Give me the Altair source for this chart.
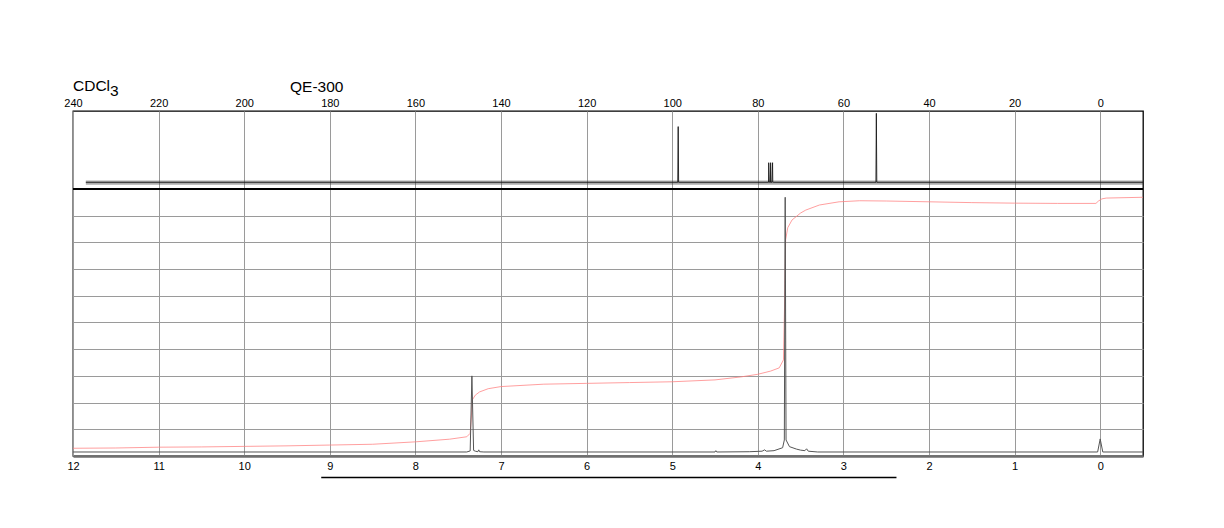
import altair as alt
import pandas as pd

# ---- 1H spectrum (ppm, relative intensity) ----
h_ppm = [12.0, 7.40, 7.36, 7.34, 7.32, 7.30, 7.27, 7.26, 7.25, 7.20, 4.50, 4.49, 4.48,
         4.10, 3.95, 3.92, 3.90, 3.81, 3.71, 3.69, 3.68, 3.67, 3.63, 3.55, 3.50, 3.45,
         3.43, 3.41, 3.30, 0.03, 0.0, -0.03, -0.5]
h_int = [1.5, 1.5, 1.9, 30.0, 2.1, 1.8, 1.6, 2.3, 1.6, 1.5, 1.5, 2.0, 1.5,
         1.6, 1.8, 2.3, 1.8, 2.0, 3.1, 6.0, 96.9, 6.0, 3.5, 2.6, 2.2, 2.0,
         2.7, 1.8, 1.5, 1.5, 6.4, 1.5, 1.5]

# ---- integration curve ----
integ_ppm = [12.0, 11.5, 11.0, 10.5, 10.0, 9.5, 9.0, 8.5, 8.0, 7.6, 7.4, 7.36, 7.345,
             7.335, 7.30, 7.25, 7.15, 7.0, 6.5, 6.0, 5.5, 5.0, 4.5, 4.2, 4.0, 3.85,
             3.75, 3.70, 3.685, 3.675, 3.65, 3.60, 3.50, 3.44, 3.28, 3.05, 2.81, 2.5,
             2.0, 1.5, 1.0, 0.5, 0.05, 0.02, -0.02, -0.07, -0.5]
integ_val = [2.9, 3.0, 3.3, 3.4, 3.6, 3.8, 4.1, 4.4, 5.3, 6.3, 7.2, 8.5, 15.0,
             21.0, 22.8, 24.0, 25.2, 26.0, 26.9, 27.2, 27.5, 27.8, 28.5, 29.6, 30.6, 31.8,
             33.0, 36.0, 60.0, 81.0, 85.5, 88.4, 91.0, 92.1, 94.0, 95.2, 95.6, 95.5,
             95.2, 94.9, 94.7, 94.6, 94.6, 95.5, 96.3, 96.6, 96.9]

# ---- 13C spectrum (ppm, relative intensity) ----
c_ppm = [237.0, 98.7, 98.6, 98.5, 77.6, 77.5, 77.45, 77.3, 77.05, 77.0, 76.95,
         76.7, 76.55, 76.5, 76.4, 52.4, 52.3, 52.2, -10.0]
c_int = [8.6, 8.6, 80.0, 8.6, 8.6, 8.6, 33.7, 8.6, 8.6, 33.7, 8.6,
         8.6, 33.7, 8.6, 8.6, 8.6, 97.0, 8.6, 8.6]
c_noise_start, c_noise_end = 237.0, -10.0
c_noise_lo, c_noise_hi = 5.5, 11.0

# ---- axes / ticks ----
h_ticks = list(range(0, 13))
c_ticks = list(range(0, 241, 20))
grid_y = [10, 20, 30, 40, 50, 60, 70, 80, 90]
bar_from, bar_to = 9.1, 2.38

W, H = 1070, 345
FONT = "Liberation Sans"

h_df = pd.DataFrame({"ppm": h_ppm, "val": h_int})
i_df = pd.DataFrame({"ppm": integ_ppm, "val": integ_val})
c_df = pd.DataFrame({"ppm": c_ppm, "val": c_int})
n_df = pd.DataFrame({"a": [c_noise_start], "b": [c_noise_end], "lo": [c_noise_lo], "hi": [c_noise_hi]})
bar_df = pd.DataFrame({"a": [bar_from], "b": [bar_to]})

hscale = alt.Scale(domain=[-0.5, 12], reverse=True, nice=False, zero=False)
cscale = alt.Scale(domain=[-10, 240], reverse=True, nice=False, zero=False)
hyscale = alt.Scale(domain=[0, 129.21], nice=False, zero=False)
cyscale = alt.Scale(domain=[-342.3, 100], nice=False, zero=False)


def hx(field="ppm"):
    return alt.X(field, type="quantitative", scale=hscale,
                 axis=alt.Axis(values=h_ticks, format="d", grid=True, gridColor="#9a9a9a",
                               gridWidth=1, ticks=False, domain=True, domainColor="#6e6e6e",
                               domainWidth=2.5, labelFont=FONT, labelFontSize=11,
                               labelColor="black", labelPadding=4, labelFlush=False,
                               labelOverlap=False, title=None, orient="bottom"))


def hy(field="val"):
    return alt.Y(field, type="quantitative", scale=hyscale,
                 axis=alt.Axis(values=grid_y, grid=True, gridColor="#9a9a9a", labels=False,
                               ticks=False, domain=False, title=None))


def cx(field="ppm"):
    return alt.X(field, type="quantitative", scale=cscale,
                 axis=alt.Axis(values=c_ticks, format="d", grid=False, ticks=False,
                               domain=False, labelFont=FONT, labelFontSize=11,
                               labelColor="black", labelPadding=3, labelFlush=False,
                               labelOverlap=False, title=None, orient="top"))


def cy(field="val"):
    return alt.Y(field, type="quantitative", scale=cyscale, axis=None)


h_line = alt.Chart(h_df).mark_line(color="#555555", strokeWidth=1).encode(x=hx(), y=hy())
i_line = alt.Chart(i_df).mark_line(color="#ff7f7f", strokeWidth=1, opacity=0.75).encode(x=hx(), y=hy())
bar = alt.Chart(bar_df).mark_rule(color="black", strokeWidth=1.3).encode(
    x=hx("a"), x2="b", y=alt.value(H + 21.5))

bottom = alt.layer(i_line, h_line, bar)

noise = alt.Chart(n_df).mark_rect(color="#333333", opacity=0.4).encode(
    x=cx("a"), x2="b", y=cy("lo"), y2="hi")
c_line = alt.Chart(c_df).mark_line(color="#1a1a1a", strokeWidth=0.9).encode(x=cx(), y=cy())
top = alt.layer(noise, c_line)

sep = alt.Chart(pd.DataFrame({"k": [0]})).mark_rule(color="black", strokeWidth=2).encode(
    x=alt.value(0), x2=alt.value(W), y=alt.value(78))

t1 = alt.Chart(pd.DataFrame({"t": ["CDCl"]})).mark_text(
    align="left", baseline="alphabetic", font=FONT, fontSize=15.5, color="black").encode(
    text="t:N", x=alt.value(0), y=alt.value(-20))
t2 = alt.Chart(pd.DataFrame({"t": ["3"]})).mark_text(
    align="left", baseline="alphabetic", font=FONT, fontSize=15.5, color="black").encode(
    text="t:N", x=alt.value(37), y=alt.value(-15))
t3 = alt.Chart(pd.DataFrame({"t": ["QE-300"]})).mark_text(
    align="left", baseline="alphabetic", font=FONT, fontSize=15.5, color="black").encode(
    text="t:N", x=alt.value(217), y=alt.value(-19))

chart = alt.layer(bottom, top, sep, t1, t2, t3).resolve_scale(
    x="independent", y="independent").properties(
    width=W, height=H,
    autosize=alt.AutoSizeParams(type="none"),
    padding={"left": 73, "top": 111, "right": 81, "bottom": 72},
    background="white",
).configure_view(stroke="black", strokeWidth=1.3)

chart.save("out.html", embed_options={"renderer": "svg", "actions": False})
